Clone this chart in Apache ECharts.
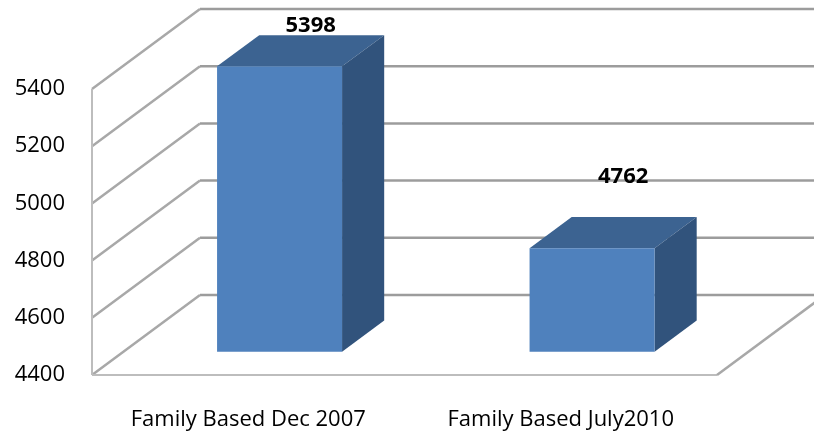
<!DOCTYPE html>
<html>
<head>
<meta charset="utf-8">
<script src="https://cdn.jsdelivr.net/npm/echarts@6/dist/echarts.min.js"></script>
<style>
  html, body { margin: 0; padding: 0; background: #fff; }
  #chart { width: 814px; height: 436px; }
</style>
</head>
<body>
<div id="chart"></div>
<script>
const categories = ['Family Based Dec 2007', 'Family Based July2010']
const values = [5398, 4762]
const yMin = 4400
const yMax = 5400
const yStep = 200

// 3D look
const depth = [108, -80]      // wall depth in px
const barFront = 0.29         // bar front face position in the depth
const barBack = 0.68
const barWidthRatio = 0.40
const labelLift = [9, 40]     // label distance above bar top (px)

const colors = {
  front: '#4f81bd',
  top: '#3c6391',
  side: '#31537c',
  grid: '#9c9c9c',
  wall: '#a8a8a8',
  edge: '#bdbdbd'
}

const chart = echarts.init(document.getElementById('chart'))

const tickValues = []
for (let v = yMin; v <= yMax; v += yStep) tickValues.push(v)

const line = (x1, y1, x2, y2, stroke, width) => ({
  type: 'line',
  shape: { x1, y1, x2, y2 },
  style: { stroke, lineWidth: width }
})

// walls, floor and gridlines
const renderFrame = (params, api) => {
  const cs = params.coordSys
  const x0 = cs.x
  const x1 = cs.x + cs.width
  const [dx, dy] = depth
  const yBase = api.coord([0, yMin])[1]
  const yTop = api.coord([0, yMax])[1]
  const children = []

  tickValues.forEach((v) => {
    const y = api.coord([0, v])[1]
    // back wall
    children.push(line(x0 + dx, y + dy, x1 + dx + 20, y + dy, colors.grid, 2.5))
    // side wall
    children.push(line(x0, y, x0 + dx, y + dy, colors.wall, 2.5))
  })
  // front left edge
  children.push(line(x0, yBase, x0, yTop, colors.edge, 2))
  // floor front and right edge
  children.push(line(x0, yBase, x1, yBase, colors.edge, 2))
  children.push(line(x1, yBase, x1 + dx, yBase + dy, colors.wall, 2.5))

  return { type: 'group', children }
}

const renderBar = (params, api) => {
  const idx = api.value(0)
  const val = api.value(1)
  const [dx, dy] = depth
  const cx = api.coord([idx, val])[0]
  const w = api.size([1, 0])[0] * barWidthRatio
  const fx = dx * barFront
  const fy = dy * barFront
  const bdx = dx * (barBack - barFront)
  const bdy = dy * (barBack - barFront)

  const L = cx - w / 2 + fx
  const R = L + w
  const T = api.coord([idx, val])[1] + fy
  const B = api.coord([idx, yMin])[1] + fy

  return {
    type: 'group',
    children: [
      {
        type: 'polygon',
        shape: { points: [[L, T], [L + bdx, T + bdy], [R + bdx, T + bdy], [R, T]] },
        style: { fill: colors.top }
      },
      {
        type: 'polygon',
        shape: { points: [[R, T], [R + bdx, T + bdy], [R + bdx, B + bdy], [R, B]] },
        style: { fill: colors.side }
      },
      {
        type: 'rect',
        shape: { x: L, y: T, width: w, height: B - T },
        style: { fill: colors.front }
      },
      {
        type: 'text',
        style: {
          text: String(val),
          x: cx + fx + bdx / 2 + 10,
          y: T + bdy - labelLift[idx],
          align: 'center',
          verticalAlign: 'middle',
          fill: '#000',
          font: 'bold 22px "Open Sans", sans-serif'
        }
      }
    ]
  }
}

const option = {
  animation: false,
  grid: {
    left: 92,
    right: 97,
    top: 89,
    bottom: 61
  },
  xAxis: {
    type: 'category',
    data: categories,
    axisLine: { show: false },
    axisTick: { show: false },
    axisLabel: {
      margin: 34,
      fontSize: 22,
      fontFamily: 'Open Sans',
      color: '#000'
    }
  },
  yAxis: {
    type: 'value',
    min: yMin,
    max: yMax,
    interval: yStep,
    axisLine: { show: false },
    axisTick: { show: false },
    splitLine: { show: false },
    axisLabel: {
      margin: 27,
      fontSize: 22,
      fontFamily: 'Open Sans',
      color: '#000',
      formatter: (v) => String(v)
    }
  },
  series: [
    {
      type: 'custom',
      renderItem: renderFrame,
      data: [[0, yMin]],
      silent: true,
      z: 1
    },
    {
      type: 'custom',
      renderItem: renderBar,
      data: values.map((v, i) => [i, v]),
      z: 2
    }
  ]
}

chart.setOption(option)
window.addEventListener('resize', () => chart.resize())
</script>
</body>
</html>
